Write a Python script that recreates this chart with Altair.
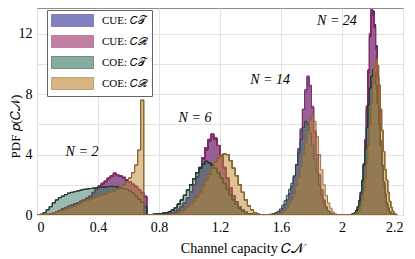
import altair as alt
import pandas as pd

# ---------------- data ----------------
series_names = ["CUE: 𝐶𝒯", "CUE: 𝐶ℛ", "COE: 𝐶𝒯", "COE: 𝐶ℛ"]
fill_colors = ["#2e2e9b", "#9b2a64", "#397761", "#c0852e"]
stroke_colors = ["#2b2b8c", "#8c2a5c", "#1f3f34", "#8a6632"]

# histogram groups (N = 2, 6, 14, 24): first bin left edge and bin width
group_names = ["N2", "N6", "N14", "N24"]
bin_start = [0.0, 0.74, 1.50, 2.06]
bin_width = [0.02, 0.02, 0.015, 0.01]

# CUE: C_T
cue_t_n2 = [0, 0, 0, 0.02, 0.05, 0.1, 0.2, 0.3, 0.4, 0.5, 0.58, 0.66, 0.74, 0.82, 0.9, 1.0, 1.1, 1.2, 1.45, 1.7,
            1.9, 2.05, 2.2, 2.4, 2.55, 2.68, 2.6, 2.55, 2.45, 2.3, 2.15, 2.0, 1.85, 1.65, 1.45, 1.2]
cue_t_n6 = [0, 0, 0, 0.02, 0.04, 0.06, 0.1, 0.15, 0.22, 0.35, 0.55, 0.8, 1.1, 1.5, 2.0, 2.5, 3.1, 3.7, 4.3, 4.9,
            5.2, 5.0, 4.6, 3.9, 3.1, 2.4, 1.8, 1.25, 0.85, 0.55, 0.33, 0.18, 0.09, 0.04, 0.02]
cue_t_n14 = [0.01, 0.02, 0.04, 0.07, 0.11, 0.18, 0.28, 0.46, 0.72, 1.02, 1.42, 1.92, 2.55, 3.35, 4.4, 5.7, 7.0,
             8.2, 9.2, 8.5, 7.1, 5.5, 3.95, 2.65, 1.65, 0.98, 0.53, 0.27, 0.12, 0.05]
cue_t_n24 = [0.02, 0.05, 0.1, 0.2, 0.4, 0.75, 1.3, 2.15, 3.3, 4.9, 7.0, 9.4, 11.8, 13.2, 13.5, 12.6, 11.2, 9.2,
             7.0, 4.9, 3.2, 2.0, 1.15, 0.62, 0.3, 0.12, 0.05]

# CUE: C_R
cue_r_n2 = [0, 0, 0, 0.02, 0.06, 0.12, 0.2, 0.3, 0.4, 0.5, 0.58, 0.66, 0.74, 0.82, 0.92, 1.02, 1.12, 1.25, 1.5,
            1.75, 1.92, 2.1, 2.25, 2.45, 2.6, 2.78, 2.65, 2.6, 2.5, 2.35, 2.2, 2.05, 1.9, 1.7, 1.5, 1.25]
cue_r_n6 = [0, 0, 0, 0.02, 0.04, 0.06, 0.1, 0.16, 0.24, 0.37, 0.57, 0.82, 1.12, 1.52, 2.0, 2.55, 3.15, 3.8, 4.45,
            5.0, 5.35, 5.1, 4.6, 3.95, 3.15, 2.45, 1.8, 1.25, 0.85, 0.55, 0.33, 0.18, 0.09, 0.04, 0.02]
cue_r_n14 = [0.01, 0.02, 0.04, 0.07, 0.1, 0.17, 0.27, 0.45, 0.7, 1.0, 1.4, 1.9, 2.5, 3.3, 4.3, 5.6, 7.0, 8.3, 9.1,
             8.6, 7.2, 5.6, 4.0, 2.7, 1.7, 1.0, 0.55, 0.28, 0.13, 0.05]
cue_r_n24 = [0.02, 0.05, 0.1, 0.2, 0.4, 0.75, 1.3, 2.2, 3.4, 5.0, 7.2, 9.6, 12.0, 13.6, 13.2, 12.4, 11.0, 9.0, 6.8,
             4.8, 3.1, 1.9, 1.1, 0.6, 0.3, 0.12, 0.05]

# COE: C_T
coe_t_n2 = [0, 0.05, 0.15, 0.35, 0.55, 0.8, 1.0, 1.15, 1.25, 1.35, 1.45, 1.5, 1.55, 1.6, 1.65, 1.7, 1.72, 1.75,
            1.78, 1.8, 1.82, 1.85, 1.85, 1.88, 1.9, 1.88, 1.85, 1.8, 1.75, 1.7, 1.6, 1.45, 1.25, 1.05, 0.85, 0.55]
coe_t_n6 = [0.03, 0.05, 0.07, 0.09, 0.12, 0.16, 0.22, 0.32, 0.48, 0.72, 1.0, 1.3, 1.65, 2.0, 2.4, 2.8, 3.1, 3.35,
            3.55, 3.45, 3.3, 3.1, 2.8, 2.45, 2.1, 1.7, 1.35, 1.0, 0.7, 0.45, 0.28, 0.16, 0.08, 0.04, 0.02]
coe_t_n14 = [0.02, 0.04, 0.06, 0.1, 0.15, 0.25, 0.4, 0.65, 0.95, 1.3, 1.7, 2.1, 2.6, 3.3, 4.1, 5.0, 5.8, 6.2, 6.0,
             5.4, 4.6, 3.7, 2.8, 2.0, 1.3, 0.8, 0.45, 0.25, 0.12, 0.05]
coe_t_n24 = [0.05, 0.1, 0.15, 0.3, 0.55, 0.95, 1.5, 2.3, 3.3, 4.4, 5.8, 7.3, 8.4, 9.2, 9.6, 9.4, 8.6, 7.4, 6.0,
             4.6, 3.3, 2.2, 1.4, 0.8, 0.45, 0.22, 0.1, 0.04]

# COE: C_R
coe_r_n2 = [0, 0, 0.03, 0.05, 0.1, 0.15, 0.2, 0.25, 0.3, 0.38, 0.45, 0.55, 0.6, 0.7, 0.8, 0.9, 0.95, 1.05, 1.1,
            1.2, 1.3, 1.35, 1.4, 1.5, 1.55, 1.6, 1.7, 1.8, 2.0, 2.2, 2.45, 2.8, 3.3, 4.3, 7.6]
coe_r_n6 = [0, 0, 0, 0, 0, 0.02, 0.03, 0.05, 0.1, 0.15, 0.25, 0.35, 0.5, 0.7, 0.95, 1.2, 1.5, 1.9, 2.3, 2.7, 3.1,
            3.5, 3.8, 3.95, 4.05, 4.0, 3.6, 3.1, 2.6, 2.0, 1.5, 1.0, 0.6, 0.35, 0.15, 0.06, 0.02]
coe_r_n14 = [0, 0, 0.02, 0.03, 0.05, 0.08, 0.12, 0.2, 0.3, 0.45, 0.7, 1.0, 1.4, 1.9, 2.5, 3.2, 4.0, 4.8, 5.6, 6.3,
             6.6, 6.2, 5.2, 4.0, 3.0, 2.0, 1.3, 0.8, 0.45, 0.2, 0.08, 0.03]
coe_r_n24 = [0, 0.02, 0.05, 0.1, 0.15, 0.3, 0.6, 1.0, 1.6, 2.4, 3.4, 4.6, 6.0, 7.4, 8.7, 9.7, 10.3, 9.9, 8.6, 7.0,
             5.6, 4.2, 3.0, 2.3, 1.5, 0.9, 0.5, 0.25, 0.1, 0.04]

hist = [
    [cue_t_n2, cue_t_n6, cue_t_n14, cue_t_n24],
    [cue_r_n2, cue_r_n6, cue_r_n14, cue_r_n24],
    [coe_t_n2, coe_t_n6, coe_t_n14, coe_t_n24],
    [coe_r_n2, coe_r_n6, coe_r_n14, coe_r_n24],
]

# axis ticks
x_tick_values = [0, 0.4, 0.8, 1.2, 1.6, 2.0, 2.4]
x_tick_labels = ["0", "0.4", "0.8", "1.2", "1.6", "2", "2.2"]
y_tick_values = [0, 2, 4, 6, 8, 10, 12]
y_tick_labels = ["0", "", "4", "", "8", "", "12"]

# annotations
ann_text = ["N  =  2", "N  =  6", "N  =  14", "N  =  24"]
ann_x = [0.295, 1.036, 1.528, 1.967]
ann_y = [4.17, 6.42, 8.93, 12.84]

# ---------------- build ----------------
def label_expr(values, labels):
    expr = "''"
    for v, l in reversed(list(zip(values, labels))):
        expr = f"abs(datum.value - {v}) < 0.01 ? '{l}' : ({expr})"
    return expr

FONT = "Liberation Serif"
fill_scale = alt.Scale(domain=series_names, range=fill_colors)
stroke_scale = alt.Scale(domain=series_names, range=stroke_colors)
x_scale = alt.Scale(domain=[0, 2.4], nice=False, zero=False)
y_scale = alt.Scale(domain=[0, 13.7], nice=False)

legend = alt.Legend(
    title=None, orient="none", legendX=10, legendY=2,
    symbolType="M-3.5,-1L3.5,-1L3.5,1L-3.5,1Z", symbolSize=144, symbolOffset=15,
    symbolStrokeWidth=1, symbolOpacity=0.6, labelFont=FONT, labelFontSize=11, labelColor="black",
    labelFontWeight="normal", padding=4, strokeColor="#666666", fillColor="white",
    rowPadding=4, labelOffset=23,
)

x_axis = alt.Axis(values=x_tick_values, labelExpr=label_expr(x_tick_values, x_tick_labels),
                  title="Channel capacity  𝐶𝒩", titleX=205, titleY=33, titleBaseline="middle",
                  ticks=False, domain=False, labelPadding=5, labelFontSize=14, titleFontSize=14,
                  titleFontWeight="normal", labelFont=FONT, titleFont=FONT, gridColor="#e2e2e2",
                  labelColor="black", titleColor="black")
y_axis = alt.Axis(values=y_tick_values, labelExpr=label_expr(y_tick_values, y_tick_labels),
                  title="PDF  𝑝(𝐶𝒩)", titleX=-22, titleY=118, titleBaseline="middle", titleAngle=-90,
                  ticks=False, domain=False, labelPadding=5, labelFontSize=14, titleFontSize=13,
                  titleFontWeight="normal", labelFont=FONT, titleFont=FONT, gridColor="#e2e2e2",
                  labelColor="black", titleColor="black")

layers = []
for s_idx, sname in enumerate(series_names):
    rows = []
    for g_idx, gname in enumerate(group_names):
        vals = hist[s_idx][g_idx]
        start, w = bin_start[g_idx], bin_width[g_idx]
        for i, v in enumerate(vals):
            rows.append({"x": start + i * w, "p": v, "series": sname, "grp": gname})
        rows.append({"x": start + len(vals) * w, "p": 0, "series": sname, "grp": gname})
    df = pd.DataFrame(rows)
    layer = alt.Chart(df).mark_area(
        interpolate="step-after", fillOpacity=0.5, strokeWidth=0.9, clip=True
    ).encode(
        x=alt.X("x:Q", scale=x_scale, axis=x_axis),
        y=alt.Y("p:Q", scale=y_scale, axis=y_axis),
        fill=alt.Fill("series:N", scale=fill_scale, legend=legend),
        stroke=alt.Stroke("series:N", scale=stroke_scale, legend=legend),
        detail="grp:N",
    )
    layers.append(layer)

ann_df = pd.DataFrame({"x": ann_x, "p": ann_y, "t": ann_text})
ann = alt.Chart(ann_df).mark_text(font=FONT, fontSize=14, fontStyle="italic", align="center",
                                  baseline="middle", color="black").encode(
    x=alt.X("x:Q", scale=x_scale, axis=x_axis),
    y=alt.Y("p:Q", scale=y_scale, axis=y_axis),
    text="t:N",
)
layers.append(ann)

chart = alt.layer(*layers).properties(
    width=366, height=207,
    autosize=alt.AutoSizeParams(type="none"),
    padding={"left": 29, "top": 0, "right": 4, "bottom": 44},
).configure(font=FONT).configure_axis(
    labelFont=FONT, titleFont=FONT
).configure_view(stroke="#8c8c8c", strokeWidth=1)

chart.save("out.html", embed_options={"renderer": "svg", "actions": False})
